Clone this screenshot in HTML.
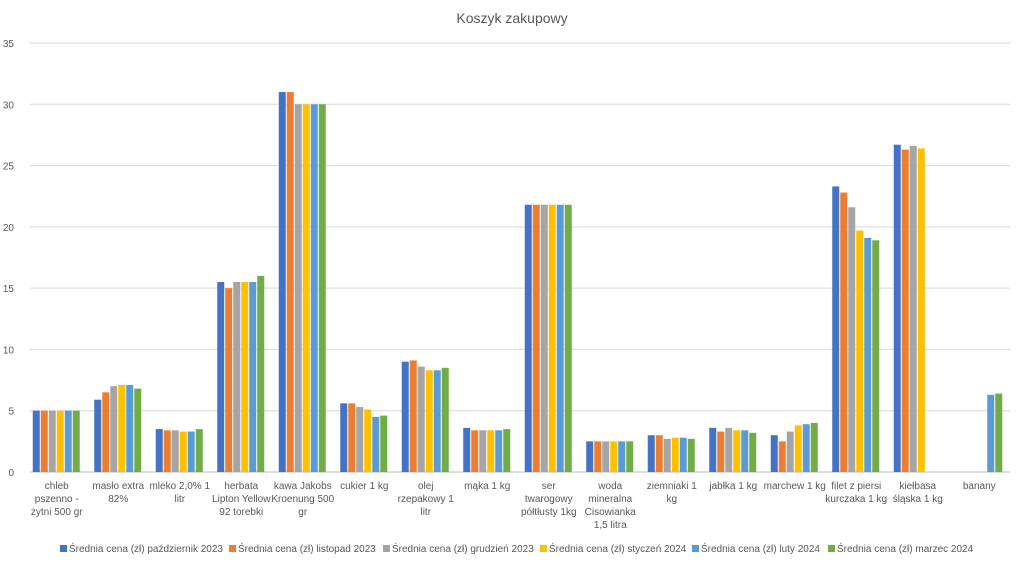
<!DOCTYPE html>
<html><head><meta charset="utf-8"><style>
body{margin:0;background:#fff}
svg text{font-family:"Liberation Sans",sans-serif;fill:#595959}
</style></head><body>
<svg id="c" width="1024" height="566" xmlns="http://www.w3.org/2000/svg">
<text x="512" y="23" text-anchor="middle" font-size="14">Koszyk zakupowy</text>
</svg>
<script>
const s=document.getElementById('c');const NS='http://www.w3.org/2000/svg';
function el(t,a,txt){const e=document.createElementNS(NS,t);for(const k in a)e.setAttribute(k,a[k]);if(txt!=null)e.textContent=txt;s.appendChild(e);return e;}
const y0=472,u=12.257,L=26,W=61.5;
for(let v=0;v<=35;v+=5){const y=y0-v*u;el('line',{x1:L+4,x2:1010,y1:y,y2:y,stroke:v?'#d9d9d9':'#bfbfbf','stroke-width':1});el('text',{x:14,y:y+4,'font-size':10,'text-anchor':'end'},v);}
const col=['#4472C4','#ED7D31','#A5A5A5','#FFC000','#5B9BD5','#70AD47'];
const data=[
[['chleb','pszenno -','żytni 500 gr'],[5,5,5,5,5,5]],
[['masło extra','82%'],[5.9,6.5,7,7.1,7.1,6.8]],
[['mleko 2,0% 1','litr'],[3.5,3.4,3.4,3.3,3.3,3.5]],
[['herbata','Lipton Yellow','92 torebki'],[15.5,15,15.5,15.5,15.5,16]],
[['kawa Jakobs','Kroenung 500','gr'],[31,31,30,30,30,30]],
[['cukier 1 kg'],[5.6,5.6,5.3,5.1,4.5,4.6]],
[['olej','rzepakowy 1','litr'],[9,9.1,8.6,8.3,8.3,8.5]],
[['mąka 1 kg'],[3.6,3.4,3.4,3.4,3.4,3.5]],
[['ser','twarogowy','półtłusty 1kg'],[21.8,21.8,21.8,21.8,21.8,21.8]],
[['woda','mineralna','Cisowianka','1,5 litra'],[2.5,2.5,2.5,2.5,2.5,2.5]],
[['ziemniaki 1','kg'],[3,3,2.7,2.8,2.8,2.7]],
[['jabłka 1 kg'],[3.6,3.3,3.6,3.4,3.4,3.2]],
[['marchew 1 kg'],[3,2.5,3.3,3.8,3.9,4]],
[['filet z piersi','kurczaka 1 kg'],[23.3,22.8,21.6,19.7,19.1,18.9]],
[['kiełbasa','śląska 1 kg'],[26.7,26.3,26.6,26.4,0,0]],
[['banany'],[0,0,0,0,6.3,6.4]]];
data.forEach((d,i)=>{const c=L+W*(i+0.5);
d[1].forEach((v,j)=>{if(!v)return;const h=v*u;el('rect',{x:c-24+j*8,y:y0-h,width:7,height:h,fill:col[j]});});
d[0].forEach((t,k)=>el('text',{x:c,y:489+k*13,'font-size':10,'text-anchor':'middle'},t));});
const lg=[['Średnia cena (zł) październik 2023',60],['Średnia cena (zł) listopad 2023',229],['Średnia cena (zł) grudzień 2023',383],['Średnia cena (zł) styczeń 2024',540],['Średnia cena (zł) luty 2024',692],['Średnia cena (zł) marzec 2024',828]];
lg.forEach((l,i)=>{el('rect',{x:l[1],y:545,width:7,height:7,fill:col[i]});el('text',{x:l[1]+9,y:552,'font-size':10},l[0]);});
</script>
</body></html>
